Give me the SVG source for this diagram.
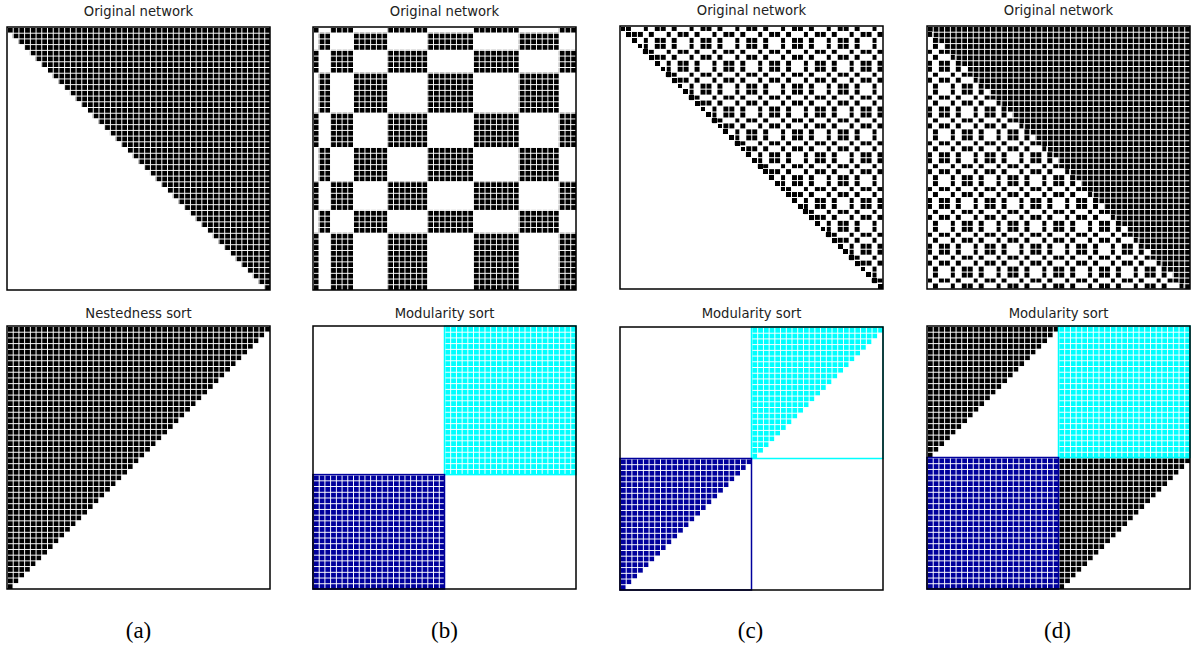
<svg xmlns="http://www.w3.org/2000/svg" width="1191" height="655" viewBox="0 0 1191 655">
<style>
.t{font-family:"DejaVu Sans",Verdana,sans-serif;font-size:13.2px;fill:#222;text-anchor:middle}
.l{font-family:"Liberation Serif","DejaVu Serif",serif;font-size:23px;fill:#000;text-anchor:middle}
.bx{fill:none;stroke:#000;stroke-width:1.5}
pattern rect,pattern path,.cr{shape-rendering:crispEdges}
</style>
<defs>
<pattern id="pk" width="5.717" height="5.717" patternUnits="userSpaceOnUse"><rect x="0.5" y="0.5" width="4.8" height="4.8" fill="#000"/></pattern>
<pattern id="pc" width="5.717" height="5.717" patternUnits="userSpaceOnUse"><rect x="0.5" y="0.5" width="4.8" height="4.8" fill="#00ffff"/></pattern>
<pattern id="pn" width="5.717" height="5.717" patternUnits="userSpaceOnUse"><rect x="0.5" y="0.5" width="4.8" height="4.8" fill="#00009c"/></pattern>
<pattern id="pm" width="45.736" height="45.736" patternUnits="userSpaceOnUse"><path fill="#000" d="
M6.217 0.5h4.8v4.8h-4.8zM23.368 0.5h4.8v4.8h-4.8zM34.802 0.5h4.8v4.8h-4.8zM40.519 0.5h4.8v4.8h-4.8z
M6.217 11.934h4.8v4.8h-4.8zM23.368 11.934h4.8v4.8h-4.8zM34.802 11.934h4.8v4.8h-4.8zM40.519 11.934h4.8v4.8h-4.8z
M6.217 17.651h4.8v4.8h-4.8zM23.368 17.651h4.8v4.8h-4.8zM34.802 17.651h4.8v4.8h-4.8zM40.519 17.651h4.8v4.8h-4.8z
M6.217 29.085h4.8v4.8h-4.8zM23.368 29.085h4.8v4.8h-4.8zM34.802 29.085h4.8v4.8h-4.8zM40.519 29.085h4.8v4.8h-4.8z
M0.5 6.217h4.8v4.8h-4.8zM11.934 6.217h4.8v4.8h-4.8zM17.651 6.217h4.8v4.8h-4.8zM29.085 6.217h4.8v4.8h-4.8z
M0.5 23.368h4.8v4.8h-4.8zM11.934 23.368h4.8v4.8h-4.8zM17.651 23.368h4.8v4.8h-4.8zM29.085 23.368h4.8v4.8h-4.8z
M0.5 34.802h4.8v4.8h-4.8zM11.934 34.802h4.8v4.8h-4.8zM17.651 34.802h4.8v4.8h-4.8zM29.085 34.802h4.8v4.8h-4.8z
M0.5 40.519h4.8v4.8h-4.8zM11.934 40.519h4.8v4.8h-4.8zM17.651 40.519h4.8v4.8h-4.8zM29.085 40.519h4.8v4.8h-4.8z"/></pattern>
<path id="UR" d="M0 0H263V263h-5.717
v-5.717h-5.717v-5.717h-5.717v-5.717h-5.717v-5.717h-5.717v-5.717h-5.717
v-5.717h-5.717v-5.717h-5.717v-5.717h-5.717v-5.717h-5.717v-5.717h-5.717
v-5.717h-5.717v-5.717h-5.717v-5.717h-5.717v-5.717h-5.717v-5.717h-5.717
v-5.717h-5.717v-5.717h-5.717v-5.717h-5.717v-5.717h-5.717v-5.717h-5.717
v-5.717h-5.717v-5.717h-5.717v-5.717h-5.717v-5.717h-5.717v-5.717h-5.717
v-5.717h-5.717v-5.717h-5.717v-5.717h-5.717v-5.717h-5.717v-5.717h-5.717
v-5.717h-5.717v-5.717h-5.717v-5.717h-5.717v-5.717h-5.717v-5.717h-5.717
v-5.717h-5.717v-5.717h-5.717v-5.717h-5.717v-5.717h-5.717v-5.717h-5.717
v-5.717h-5.717v-5.717h-5.717v-5.717h-5.717v-5.717h-5.717v-5.717h-5.717
Z"/>
<path id="UL" d="M0 0H263v5.717
h-5.717v5.717h-5.717v5.717h-5.717v5.717h-5.717v5.717h-5.717v5.717
h-5.717v5.717h-5.717v5.717h-5.717v5.717h-5.717v5.717h-5.717v5.717
h-5.717v5.717h-5.717v5.717h-5.717v5.717h-5.717v5.717h-5.717v5.717
h-5.717v5.717h-5.717v5.717h-5.717v5.717h-5.717v5.717h-5.717v5.717
h-5.717v5.717h-5.717v5.717h-5.717v5.717h-5.717v5.717h-5.717v5.717
h-5.717v5.717h-5.717v5.717h-5.717v5.717h-5.717v5.717h-5.717v5.717
h-5.717v5.717h-5.717v5.717h-5.717v5.717h-5.717v5.717h-5.717v5.717
h-5.717v5.717h-5.717v5.717h-5.717v5.717h-5.717v5.717h-5.717v5.717
h-5.717v5.717h-5.717v5.717h-5.717v5.717h-5.717v5.717h-5.717v5.717
H0Z"/>
<path id="LL" d="M0 5.717
h5.717v5.717h5.717v5.717h5.717v5.717h5.717v5.717h5.717v5.717
h5.717v5.717h5.717v5.717h5.717v5.717h5.717v5.717h5.717v5.717
h5.717v5.717h5.717v5.717h5.717v5.717h5.717v5.717h5.717v5.717
h5.717v5.717h5.717v5.717h5.717v5.717h5.717v5.717h5.717v5.717
h5.717v5.717h5.717v5.717h5.717v5.717h5.717v5.717h5.717v5.717
h5.717v5.717h5.717v5.717h5.717v5.717h5.717v5.717h5.717v5.717
h5.717v5.717h5.717v5.717h5.717v5.717h5.717v5.717h5.717v5.717
h5.717v5.717h5.717v5.717h5.717v5.717h5.717v5.717h5.717v5.717
h5.717v5.717h5.717v5.717h5.717v5.717h5.717v5.717h5.717v5.717
H0Z"/>
<path id="Q" d="M0 0H131.5v5.717
h-5.717v5.717h-5.717v5.717h-5.717v5.717h-5.717v5.717h-5.717v5.717
h-5.717v5.717h-5.717v5.717h-5.717v5.717h-5.717v5.717h-5.717v5.717
h-5.717v5.717h-5.717v5.717h-5.717v5.717h-5.717v5.717h-5.717v5.717
h-5.717v5.717h-5.717v5.717h-5.717v5.717h-5.717v5.717h-5.717v5.717
h-5.717v5.717h-5.717v5.717
H0Z"/>
<clipPath id="bcx"><rect x="0" y="0" width="5.717" height="263"/><rect x="17.151" y="0" width="22.868" height="263"/><rect x="74.321" y="0" width="40.019" height="263"/><rect x="160.076" y="0" width="45.736" height="263"/><rect x="245.831" y="0" width="17.169" height="263"/></clipPath>
<clipPath id="bcy"><rect x="5.717" y="0" width="11.434" height="263"/><rect x="40.019" y="0" width="34.302" height="263"/><rect x="114.34" y="0" width="45.736" height="263"/><rect x="205.812" y="0" width="40.019" height="263"/></clipPath>
</defs>
<rect width="1191" height="655" fill="#fff"/>

<g id="panel-a-top" transform="translate(7,27)">
<use href="#UR" fill="url(#pk)"/>
<rect class="bx" width="263" height="263"/>
</g>
<g id="panel-a-bottom" transform="translate(7,326)">
<use href="#UL" fill="url(#pk)"/>
<rect class="bx" width="263" height="263"/>
</g>

<g id="panel-b-top" transform="translate(313,27)">
<g clip-path="url(#bcx)" fill="url(#pk)">
<rect x="0" y="0" width="263" height="5.717"/>
<rect x="0" y="22.868" width="263" height="22.868"/>
<rect x="0" y="85.755" width="263" height="34.302"/>
<rect x="0" y="154.359" width="263" height="28.585"/>
<rect x="0" y="205.812" width="263" height="57.188"/>
</g>
<g clip-path="url(#bcy)" fill="url(#pk)">
<rect x="0" y="5.717" width="263" height="17.151"/>
<rect x="0" y="45.736" width="263" height="40.019"/>
<rect x="0" y="120.057" width="263" height="34.302"/>
<rect x="0" y="182.944" width="263" height="22.868"/>
</g>
<rect class="bx" width="263" height="263"/>
</g>
<g id="panel-b-bottom" transform="translate(313,326)">
<rect x="131.5" y="0" width="131.5" height="148.6" fill="url(#pc)"/>
<rect x="0" y="148.6" width="131.5" height="114.4" fill="url(#pn)"/>
<rect x="131.5" y="0" width="131.5" height="148.6" fill="none" stroke="#00ffff" stroke-width="1.5"/>
<rect x="0" y="148.6" width="131.5" height="114.4" fill="none" stroke="#00009c" stroke-width="1.5"/>
<rect class="bx" width="263" height="263"/>
</g>

<g id="panel-c-top" transform="translate(620,26)">
<use href="#UR" fill="url(#pm)"/>
<path class="cr" fill="#000" d="M0.5 0.5h4.8v4.8h-4.8z
m5.717 5.717h4.8v4.8h-4.8zm5.717 5.717h4.8v4.8h-4.8zm5.717 5.717h4.8v4.8h-4.8zm5.717 5.717h4.8v4.8h-4.8zm5.717 5.717h4.8v4.8h-4.8z
m5.717 5.717h4.8v4.8h-4.8zm5.717 5.717h4.8v4.8h-4.8zm5.717 5.717h4.8v4.8h-4.8zm5.717 5.717h4.8v4.8h-4.8zm5.717 5.717h4.8v4.8h-4.8z
m5.717 5.717h4.8v4.8h-4.8zm5.717 5.717h4.8v4.8h-4.8zm5.717 5.717h4.8v4.8h-4.8zm5.717 5.717h4.8v4.8h-4.8zm5.717 5.717h4.8v4.8h-4.8z
m5.717 5.717h4.8v4.8h-4.8zm5.717 5.717h4.8v4.8h-4.8zm5.717 5.717h4.8v4.8h-4.8zm5.717 5.717h4.8v4.8h-4.8zm5.717 5.717h4.8v4.8h-4.8z
m5.717 5.717h4.8v4.8h-4.8zm5.717 5.717h4.8v4.8h-4.8zm5.717 5.717h4.8v4.8h-4.8zm5.717 5.717h4.8v4.8h-4.8zm5.717 5.717h4.8v4.8h-4.8z
m5.717 5.717h4.8v4.8h-4.8zm5.717 5.717h4.8v4.8h-4.8zm5.717 5.717h4.8v4.8h-4.8zm5.717 5.717h4.8v4.8h-4.8zm5.717 5.717h4.8v4.8h-4.8z
m5.717 5.717h4.8v4.8h-4.8zm5.717 5.717h4.8v4.8h-4.8zm5.717 5.717h4.8v4.8h-4.8zm5.717 5.717h4.8v4.8h-4.8zm5.717 5.717h4.8v4.8h-4.8z
m5.717 5.717h4.8v4.8h-4.8zm5.717 5.717h4.8v4.8h-4.8zm5.717 5.717h4.8v4.8h-4.8zm5.717 5.717h4.8v4.8h-4.8zm5.717 5.717h4.8v4.8h-4.8z
m5.717 5.717h4.8v4.8h-4.8zm5.717 5.717h4.8v4.8h-4.8zm5.717 5.717h4.8v4.8h-4.8zm5.717 5.717h4.8v4.8h-4.8zm5.717 5.717h4.8v4.8h-4.8z"/>
<rect class="bx" width="263" height="263"/>
</g>
<g id="panel-c-bottom" transform="translate(620,327)">
<use href="#Q" x="131.5" y="0" fill="url(#pc)"/>
<use href="#Q" x="0" y="131.5" fill="url(#pn)"/>
<rect x="131.5" y="0" width="131.5" height="131.5" fill="none" stroke="#00ffff" stroke-width="1.5"/>
<rect x="0" y="131.5" width="131.5" height="131.5" fill="none" stroke="#00009c" stroke-width="1.5"/>
<rect class="bx" width="263" height="263"/>
</g>

<g id="panel-d-top" transform="translate(927,26)">
<use href="#UR" fill="url(#pk)"/>
<use href="#LL" fill="url(#pm)"/>
<rect class="bx" width="263" height="263"/>
</g>
<g id="panel-d-bottom" transform="translate(927,326)">
<use href="#Q" x="0" y="0" fill="url(#pk)"/>
<rect x="131.5" y="0" width="131.5" height="131.5" fill="url(#pc)"/>
<rect x="0" y="131.5" width="131.5" height="131.5" fill="url(#pn)"/>
<use href="#Q" x="131.5" y="131.5" fill="url(#pk)"/>
<rect x="131.5" y="0" width="131.5" height="131.5" fill="none" stroke="#00ffff" stroke-width="1.5"/>
<rect x="0" y="131.5" width="131.5" height="131.5" fill="none" stroke="#00009c" stroke-width="1.5"/>
<rect class="bx" width="263" height="263"/>
</g>

<g id="titles">
<text class="t" x="138.5" y="16">Original network</text>
<text class="t" x="444.5" y="16">Original network</text>
<text class="t" x="751.5" y="15">Original network</text>
<text class="t" x="1058.5" y="15">Original network</text>
<text class="t" x="138.5" y="318">Nestedness sort</text>
<text class="t" x="444.5" y="318">Modularity sort</text>
<text class="t" x="751.5" y="318">Modularity sort</text>
<text class="t" x="1058.5" y="318">Modularity sort</text>
</g>
<g id="labels">
<text class="l" x="138.5" y="638">(a)</text>
<text class="l" x="444.5" y="638">(b)</text>
<text class="l" x="750.5" y="638">(c)</text>
<text class="l" x="1057.5" y="638">(d)</text>
</g>
</svg>
